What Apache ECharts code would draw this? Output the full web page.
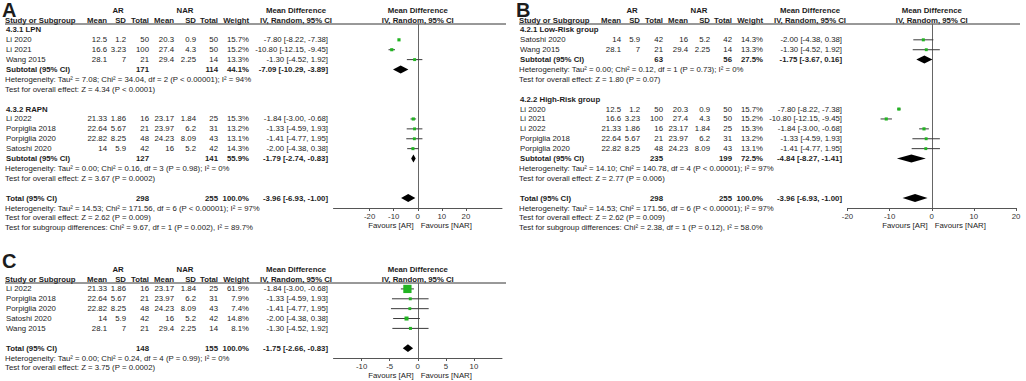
<!DOCTYPE html>
<html>
<head>
<meta charset="utf-8">
<script src="https://cdn.jsdelivr.net/npm/echarts@6/dist/echarts.min.js"></script>
<style>
  html, body { margin: 0; padding: 0; background: #fff; }
  #forest { width: 1026px; height: 381px; }
</style>
</head>
<body>
<div id="forest"></div>
<script>
// study rows: name, AR mean, AR SD, AR total, NAR mean, NAR SD, NAR total, weight %, MD, lower, upper
const lpnStudies = [
  ['Li 2020', 12.5, 1.2, 50, 20.3, 0.9, 50, 15.7, -7.80, -8.22, -7.38],
  ['Li 2021', 16.6, 3.23, 100, 27.4, 4.3, 50, 15.2, -10.80, -12.15, -9.45],
  ['Wang 2015', 28.1, 7, 21, 29.4, 2.25, 14, 13.3, -1.30, -4.52, 1.92]
];
const rapnStudies = [
  ['Li 2022', 21.33, 1.86, 16, 23.17, 1.84, 25, 15.3, -1.84, -3.00, -0.68],
  ['Porpiglia 2018', 22.64, 5.67, 21, 23.97, 6.2, 31, 13.2, -1.33, -4.59, 1.93],
  ['Porpiglia 2020', 22.82, 8.25, 48, 24.23, 8.09, 43, 13.1, -1.41, -4.77, 1.95],
  ['Satoshi 2020', 14, 5.9, 42, 16, 5.2, 42, 14.3, -2.00, -4.38, 0.38]
];
const lowRiskStudies = [
  ['Satoshi 2020', 14, 5.9, 42, 16, 5.2, 42, 14.3, -2.00, -4.38, 0.38],
  ['Wang 2015', 28.1, 7, 21, 29.4, 2.25, 14, 13.3, -1.30, -4.52, 1.92]
];
const highRiskStudies = [
  ['Li 2020', 12.5, 1.2, 50, 20.3, 0.9, 50, 15.7, -7.80, -8.22, -7.38],
  ['Li 2021', 16.6, 3.23, 100, 27.4, 4.3, 50, 15.2, -10.80, -12.15, -9.45],
  ['Li 2022', 21.33, 1.86, 16, 23.17, 1.84, 25, 15.3, -1.84, -3.00, -0.68],
  ['Porpiglia 2018', 22.64, 5.67, 21, 23.97, 6.2, 31, 13.2, -1.33, -4.59, 1.93],
  ['Porpiglia 2020', 22.82, 8.25, 48, 24.23, 8.09, 43, 13.1, -1.41, -4.77, 1.95]
];
const raStudies = [
  ['Li 2022', 21.33, 1.86, 16, 23.17, 1.84, 25, 61.9, -1.84, -3.00, -0.68],
  ['Porpiglia 2018', 22.64, 5.67, 21, 23.97, 6.2, 31, 7.9, -1.33, -4.59, 1.93],
  ['Porpiglia 2020', 22.82, 8.25, 48, 24.23, 8.09, 43, 7.4, -1.41, -4.77, 1.95],
  ['Satoshi 2020', 14, 5.9, 42, 16, 5.2, 42, 14.8, -2.00, -4.38, 0.38],
  ['Wang 2015', 28.1, 7, 21, 29.4, 2.25, 14, 8.1, -1.30, -4.52, 1.92]
];

// pooled rows: AR total, NAR total, weight %, MD, lower, upper
const lpnSubtotal = [171, 114, 44.1, -7.09, -10.29, -3.89];
const rapnSubtotal = [127, 141, 55.9, -1.79, -2.74, -0.83];
const lowRiskSubtotal = [63, 56, 27.5, -1.75, -3.67, 0.16];
const highRiskSubtotal = [235, 199, 72.5, -4.84, -8.27, -1.41];
const allTotal = [298, 255, 100.0, -3.96, -6.93, -1.00];
const raTotal = [148, 155, 100.0, -1.75, -2.66, -0.83];

const lpnNotes = [
  'Heterogeneity: Tau² = 7.08; Chi² = 34.04, df = 2 (P < 0.00001); I² = 94%',
  'Test for overall effect: Z = 4.34 (P < 0.0001)'
];
const rapnNotes = [
  'Heterogeneity: Tau² = 0.00; Chi² = 0.16, df = 3 (P = 0.98); I² = 0%',
  'Test for overall effect: Z = 3.67 (P = 0.0002)'
];
const lowRiskNotes = [
  'Heterogeneity: Tau² = 0.00; Chi² = 0.12, df = 1 (P = 0.73); I² = 0%',
  'Test for overall effect: Z = 1.80 (P = 0.07)'
];
const highRiskNotes = [
  'Heterogeneity: Tau² = 14.10; Chi² = 140.78, df = 4 (P < 0.00001); I² = 97%',
  'Test for overall effect: Z = 2.77 (P = 0.006)'
];
const totalNotesA = [
  'Heterogeneity: Tau² = 14.53; Chi² = 171.56, df = 6 (P < 0.00001); I² = 97%',
  'Test for overall effect: Z = 2.62 (P = 0.009)',
  'Test for subgroup differences: Chi² = 9.67, df = 1 (P = 0.002), I² = 89.7%'
];
const totalNotesB = [
  'Heterogeneity: Tau² = 14.53; Chi² = 171.56, df = 6 (P < 0.00001); I² = 97%',
  'Test for overall effect: Z = 2.62 (P = 0.009)',
  'Test for subgroup differences: Chi² = 2.38, df = 1 (P = 0.12), I² = 58.0%'
];
const totalNotesC = [
  'Heterogeneity: Tau² = 0.00; Chi² = 0.24, df = 4 (P = 0.99); I² = 0%',
  'Test for overall effect: Z = 3.75 (P = 0.0002)'
];

const ticksA = [-20, -10, 0, 10, 20];
const ticksB = [-20, -10, 0, 10, 20];
const ticksC = [-10, -5, 0, 5, 10];

const panels = [
  {
    label: 'A', ox: 0,
    groups: [
      {title: '4.3.1 LPN', studies: lpnStudies, subtotal: lpnSubtotal, notes: lpnNotes},
      {title: '4.3.2 RAPN', studies: rapnStudies, subtotal: rapnSubtotal, notes: rapnNotes}
    ],
    total: allTotal, totalNotes: totalNotesA,
    grid: {left: 333.5, top: 24, width: 168.5, height: 184}, xRange: 35, yMax: 19, ticks: ticksA,
    box: 0.8, diamond: 4
  },
  {
    label: 'B', ox: 514,
    groups: [
      {title: '4.2.1 Low-Risk group', studies: lowRiskStudies, subtotal: lowRiskSubtotal, notes: lowRiskNotes},
      {title: '4.2.2 High-Risk group', studies: highRiskStudies, subtotal: highRiskSubtotal, notes: highRiskNotes}
    ],
    total: allTotal, totalNotes: totalNotesB,
    grid: {left: 847.5, top: 24, width: 168.5, height: 184}, xRange: 20, yMax: 19, ticks: ticksB,
    box: 0.8, diamond: 4
  },
  {
    label: 'C', ox: 0,
    studies: raStudies,
    total: raTotal, totalNotes: totalNotesC,
    grid: {left: 333.5, top: 283, width: 168.5, height: 75}, xRange: 15, yMax: 8, ticks: ticksC,
    box: 1.05, diamond: 3.9
  }
];

// lay out rows: row 0 is the column header line
function layoutRows(p) {
  const rows = [];
  let r = 1;
  const addStudies = list => list.forEach(s => rows.push({kind: 'study', r: r++, d: s}));
  if (p.groups) {
    p.groups.forEach(g => {
      rows.push({kind: 'title', r: r++, text: g.title});
      addStudies(g.studies);
      rows.push({kind: 'pooled', r: r++, name: 'Subtotal (95% CI)', d: g.subtotal});
      g.notes.forEach(n => rows.push({kind: 'note', r: r++, text: n}));
      r++;
    });
  } else {
    addStudies(p.studies);
    r++;
  }
  rows.push({kind: 'pooled', r: r++, name: 'Total (95% CI)', d: p.total});
  p.totalNotes.forEach(n => rows.push({kind: 'note', r: r++, text: n}));
  return rows;
}
panels.forEach(p => { p.rows = layoutRows(p); });

const chart = echarts.init(document.getElementById('forest'), null, {renderer: 'svg'});
const FONT = 'Liberation Sans, Arial, sans-serif';
const FS = 7.8;
const INK = '#1c1c1c';

function renderForest(params, api) {
  const p = panels[params.seriesIndex];
  const row = api.value(3);
  const mid = api.coord([api.value(0), row]);
  const lo = api.coord([api.value(1), row]);
  const hi = api.coord([api.value(2), row]);
  if (api.value(5) === 1) {
    return {
      type: 'polygon',
      shape: {points: [[lo[0], mid[1]], [mid[0], mid[1] - p.diamond], [hi[0], mid[1]], [mid[0], mid[1] + p.diamond]]},
      style: {fill: '#000'}
    };
  }
  const s = p.box * Math.sqrt(api.value(4));
  return {
    type: 'group',
    children: [
      {type: 'line', shape: {x1: lo[0], y1: mid[1], x2: hi[0], y2: mid[1]}, style: {stroke: '#3a3a3a', lineWidth: 1}},
      {type: 'rect', shape: {x: mid[0] - s / 2, y: mid[1] - s / 2, width: s, height: s}, style: {fill: '#22b422'}}
    ]
  };
}

const option = {
  animation: false,
  grid: panels.map(p => Object.assign({containLabel: false}, p.grid)),
  xAxis: panels.map((p, i) => ({
    type: 'value', gridIndex: i, min: -p.xRange, max: p.xRange,
    axisLine: {onZero: false, lineStyle: {color: '#555', width: 1}},
    axisTick: {show: true, length: 3, customValues: p.ticks, lineStyle: {color: '#555'}},
    axisLabel: {customValues: p.ticks, fontSize: FS, fontFamily: FONT, color: '#333', margin: 4},
    splitLine: {show: false}
  })),
  yAxis: panels.map((p, i) => ({
    type: 'value', gridIndex: i, inverse: true, min: 0.4, max: p.yMax,
    axisLine: {show: true, onZero: true, lineStyle: {color: '#666', width: 1}},
    axisTick: {show: false}, axisLabel: {show: false}, splitLine: {show: false}
  })),
  series: panels.map((p, i) => ({
    type: 'custom', xAxisIndex: i, yAxisIndex: i,
    renderItem: renderForest,
    data: p.rows.filter(r => r.kind === 'study' || r.kind === 'pooled').map(r =>
      r.kind === 'study'
        ? [r.d[8], r.d[9], r.d[10], r.r, r.d[7], 0]
        : [r.d[3], r.d[4], r.d[5], r.r, 0, 1])
  }))
};
chart.setOption(option);

// table text
function txt(x, y, s, align, bold, size, vAlign) {
  const va = vAlign || 'middle';
  return {
    type: 'text', x: x, y: y, silent: true,
    style: {
      text: s, fill: INK,
      fontSize: size || FS, fontFamily: FONT, fontWeight: bold ? 'bold' : 'normal',
      align: align, textAlign: align, verticalAlign: va, textVerticalAlign: va
    }
  };
}
const fmt2 = v => v.toFixed(2);
const ciText = (m, l, h) => fmt2(m) + ' [' + fmt2(l) + ', ' + fmt2(h) + ']';
const colRight = [107, 126, 149, 174, 196, 218, 249];
const nameX = 6, mdRight = 328, mdCenter = 296;

const elements = [];
panels.forEach((p, gi) => {
  const ox = p.ox;
  const rowY = r => chart.convertToPixel({gridIndex: gi}, [0, r])[1];
  const zeroX = chart.convertToPixel({gridIndex: gi}, [0, 1])[0];
  const gTop = p.grid.top, gBottom = p.grid.top + p.grid.height;

  // panel letter
  elements.push(txt(ox + 2, Math.max(0, rowY(-1) - 18), p.label, 'left', true, 20, 'top'));
  // header
  const h1 = rowY(-1), h0 = rowY(0);
  elements.push(txt(ox + 118, h1, 'AR', 'center', true));
  elements.push(txt(ox + 185, h1, 'NAR', 'center', true));
  elements.push(txt(ox + mdCenter, h1, 'Mean Difference', 'center', true));
  elements.push(txt(zeroX, h1, 'Mean Difference', 'center', true));
  elements.push(txt(ox + nameX - 1, h0, 'Study or Subgroup', 'left', true));
  ['Mean', 'SD', 'Total', 'Mean', 'SD', 'Total', 'Weight'].forEach((t, k) =>
    elements.push(txt(ox + colRight[k], h0, t, 'right', true)));
  elements.push(txt(ox + mdCenter, h0, 'IV, Random, 95% CI', 'center', true));
  elements.push(txt(zeroX, h0, 'IV, Random, 95% CI', 'center', true));
  elements.push({
    type: 'line', silent: true,
    shape: {x1: ox + 5, y1: gTop, x2: p.grid.left + p.grid.width + 4, y2: gTop},
    style: {stroke: '#333', lineWidth: 1}
  });

  p.rows.forEach(row => {
    const y = rowY(row.r);
    if (row.kind === 'title') {
      elements.push(txt(ox + nameX, y, row.text, 'left', true));
    } else if (row.kind === 'note') {
      elements.push(txt(ox + nameX - 1, y, row.text, 'left', false));
    } else if (row.kind === 'study') {
      const d = row.d;
      elements.push(txt(ox + nameX, y, d[0], 'left', false));
      for (let k = 1; k <= 6; k++) elements.push(txt(ox + colRight[k - 1], y, String(d[k]), 'right', false));
      elements.push(txt(ox + colRight[6], y, d[7].toFixed(1) + '%', 'right', false));
      elements.push(txt(ox + mdRight, y, ciText(d[8], d[9], d[10]), 'right', false));
    } else {
      const d = row.d;
      elements.push(txt(ox + nameX, y, row.name, 'left', true));
      elements.push(txt(ox + colRight[2], y, String(d[0]), 'right', true));
      elements.push(txt(ox + colRight[5], y, String(d[1]), 'right', true));
      elements.push(txt(ox + colRight[6], y, d[2].toFixed(1) + '%', 'right', true));
      elements.push(txt(ox + mdRight, y, ciText(d[3], d[4], d[5]), 'right', true));
    }
  });

  elements.push(txt(zeroX - 4, gBottom + 17, 'Favours [AR]', 'right', false));
  elements.push(txt(zeroX + 3, gBottom + 17, 'Favours [NAR]', 'left', false));
});

chart.setOption({graphic: {elements: elements}});
</script>
</body>
</html>
